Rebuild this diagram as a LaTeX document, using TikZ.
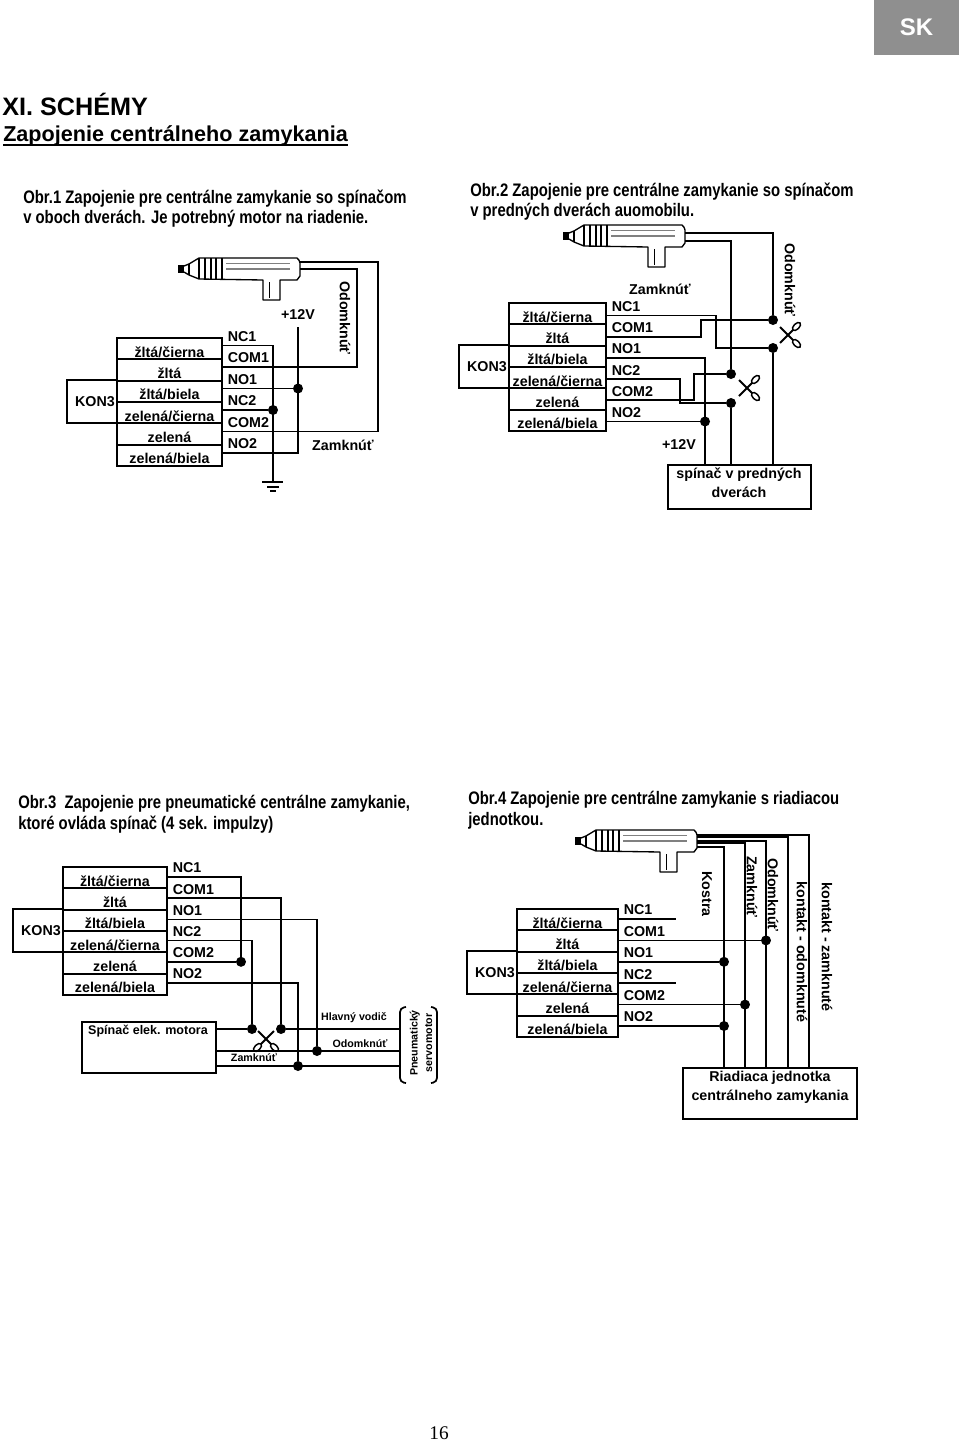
\documentclass[tikz,border=0pt]{standalone}
\usepackage{fontspec}
\setmainfont{Liberation Sans}
\newfontfamily\capfont[FakeStretch=.82]{Liberation Sans}
\newfontfamily\pagefont{Liberation Serif}
\usetikzlibrary{calc}

% prefix, x, top, width, first wire offset, wire step
\newcommand{\konblock}[6]{%
\foreach \i/\rowtxt/\pintxt in {1/{žltá/čierna}/NC1,2/žltá/COM1,3/{žltá/biela}/NO1,4/{zelená/čierna}/NC2,5/zelená/COM2,6/{zelená/biela}/NO2}{
\node[rowbox,minimum width=#4*.75pt] (#1r\i) at ({#2+#4/2},{#3+(\i-.5)*21.3}) {\rowtxt};
\coordinate (#1w\i) at ({#2+#4},{#3+#5+(\i-1)*#6});
\node[pinlbl] (#1p\i) at ({#2+#4+5.5},{#3+#5-9+(\i-1)*#6}) {\pintxt};
}
\node[konbox] (#1kon) at ({#2-25},{#3+63.5}) {\hspace*{4.5pt}KON3};
}

\begin{document}
\begin{tikzpicture}[x=.75pt,y=-.75pt]

\tikzset{every node/.style = {font=\bfseries\fontsize{10.7}{12.8}\selectfont,inner sep=0pt}}
\tikzset{wire/.style = {line width=1.3pt}}
\tikzset{rowbox/.style = {draw,line width=1.5pt,minimum height=15.975pt,text height=14pt,text depth=1pt}}
\tikzset{konbox/.style = {draw,line width=1.5pt,minimum width=37.5pt,minimum height=32pt}}
\tikzset{pinlbl/.style = {anchor=west}}
\tikzset{unitbox/.style = {draw,line width=1.5pt}}
\tikzset{dot/.style = {circle,fill,minimum size=7.5pt}}
\tikzset{small/.style = {font=\bfseries\fontsize{8}{10}\selectfont}}
\tikzset{capt/.style = {anchor=north west,align=left,font=\capfont\bfseries\fontsize{13.6}{15.4}\selectfont}}
\tikzset{lockmotor/.pic = {
\draw[line width=1pt,line join=round] (6,8) -- (11,6) -- (21,0) -- (119,0) to[bend left=20] (122,5) -- (122,18) to[bend left=20] (119,22) -- (102,22) -- (102,42) -- (85,42) -- (85,22) -- (21,21) -- (11,17) -- (6,14);
\draw[line width=1pt] (11,6) -- (11,17);
\fill (0,7) rectangle (6,15);
\foreach \ribx in {21,27,33,38,44}
\draw[line width=1pt] (\ribx,0) -- (\ribx,21);
\draw[line width=.7pt] (91,24) -- (91,40);
\draw[gray,line width=.7pt] (48,5) -- (112,5);
\draw[gray,line width=1.1pt] (48,11) -- (112,11);
\coordinate (-end) at (122,11);
}}
\tikzset{ground/.pic = {
\draw[wire] (-11,0) -- (10,0);
\draw[line width=1pt] (-6,5) -- (6,5);
\draw[line width=1pt] (-3,9) -- (3,9);
}}
\tikzset{scissors/.pic = {
\draw[line width=1.4pt] (-7,-8) -- (6,5);
\draw[line width=1.4pt] (-7,8) -- (6,-5);
\draw[line width=1.1pt] (9.5,-8.5) circle [x radius=5,y radius=2.8,rotate=45];
\draw[line width=1.1pt] (9.5,8.5) circle [x radius=5,y radius=2.8,rotate=-45];
}}
\useasboundingbox (0,0) rectangle (960,1443);

% page head
\node[fill=black!44,minimum width=63.75pt,minimum height=41.25pt,text=white,font=\bfseries\fontsize{18}{20}\selectfont] (lang) at (916.5,27.5) {SK};
\node[anchor=west,font=\bfseries\fontsize{18.9}{20}\selectfont] (head) at (2,104) {XI. SCHÉMY};
\node[anchor=base west,font=\bfseries\fontsize{16.2}{18}\selectfont] (subhead) at (3,141.5) {Zapojenie centrálneho zamykania};
\draw[line width=1.3pt] ([yshift=-2.6pt]subhead.base west) -- ([yshift=-2.6pt]subhead.base east);
\node[capt] (capa) at (23,189.5) {Obr.1 Zapojenie pre centrálne zamykanie so spínačom\\v oboch dverách. Je potrebný motor na riadenie.};
\node[capt] (capb) at (470,182.5) {Obr.2 Zapojenie pre centrálne zamykanie so spínačom\\v predných dverách auomobilu.};
\node[capt] (capc) at (18,795) {Obr.3 \ Zapojenie pre pneumatické centrálne zamykanie,\\ktoré ovláda spínač (4 sek. impulzy)};
\node[capt] (capd) at (468,791) {Obr.4 Zapojenie pre centrálne zamykanie s riadiacou\\jednotkou.};
\node[font=\pagefont\fontsize{14.5}{16}\selectfont] (pagenum) at (439,1433) {16};

% Obr.1
\konblock{a}{117}{338}{105}{7.5}{21.5}
\pic (ma) at (178,258) {lockmotor};
\coordinate (agnd) at (273,482);
\coordinate (aplus) at (298,327);
\coordinate (aup) at (378,262);
\coordinate (alow) at (357,269);
\node[dot] (ada) at (aw3 -| aplus) {};
\node[dot] (adb) at (aw4 -| agnd) {};
\draw[wire] (aw1) -| (agnd);
\pic at (agnd) {ground};
\draw[wire] (aw2) -| (alow) -- (ma-end |- alow);
\draw[wire] (aw3) -- (ada);
\draw[wire] (aw4) -- (adb);
\draw[wire] (aw5) -| (aup) -- (ma-end |- aup);
\draw[wire] (aw6) -| (aplus);
\node (aplustxt) at (298,315) {+12V};
\node[rotate=-90] (aodo) at (345,318) {Odomknúť};
\node (azam) at (343,445) {Zamknúť};

% Obr.2
\konblock{b}{509}{303}{97}{12.5}{21.2}
\pic (mb) at (563,225) {lockmotor};
\node[unitbox,minimum width=107.25pt,minimum height=33pt] (door) at (739.5,487) {};
\node[align=center] (doortxt) at (739,483) {spínač v predných\\[1.2pt]dverách};
\coordinate (ka) at (716,348);
\coordinate (kb) at (701,320);
\coordinate (kc) at (705,465);
\coordinate (kd) at (680,403);
\coordinate (ke) at (694,374);
\coordinate (kf) at (773,233);
\coordinate (kg) at (731,241);
\node[dot] (bda) at (773,320) {};
\node[dot] (bdb) at (773,348) {};
\node[dot] (bdc) at (731,374) {};
\node[dot] (bdd) at (731,403) {};
\node[dot] (bde) at (bw6 -| kc) {};
\draw[wire] (bw1) -| (ka) -- (bdb);
\draw[wire] (bw2) -| (kb) -- (bda);
\draw[wire] (bw3) -| (kc);
\draw[wire] (bw4) -| (kd) -- (bdd);
\draw[wire] (bw5) -| (ke) -- (bdc);
\draw[wire] (bw6) -- (bde);
\draw[wire] (bda) -- (kf) -- (mb-end |- kf);
\draw[wire] (bdc) -- (kg) -- (mb-end |- kg);
\draw[wire] (bdb) -- (bdb |- door.north);
\draw[wire] (bdd) -- (bdd |- door.north);
\pic at (787,335) {scissors};
\pic at (746,388) {scissors};
\node (bzam) at (660,289) {Zamknúť};
\node[rotate=-90] (bodo) at (790,280) {Odomknúť};
\node (bplus) at (679,445) {+12V};

% Obr.3
\konblock{c}{63}{867}{104}{10}{21.2}
\node[unitbox,minimum width=100.5pt,minimum height=38.25pt] (motsw) at (149,1047.5) {};
\node[font=\bfseries\fontsize{9.4}{11}\selectfont] (motswtxt) at (148,1031) {Spínač elek. motora};
\coordinate (ca) at (241,961);
\coordinate (cb) at (281,1029);
\coordinate (cc) at (317,1051);
\coordinate (cd) at (252,1029);
\coordinate (ce) at (298,1066);
\coordinate (cra) at (400,1029);
\coordinate (crb) at (400,1051);
\coordinate (crc) at (400,1066);
\node[dot] (cda) at (cw5 -| ca) {};
\node[dot] (cdb) at (cb) {};
\node[dot] (cdc) at (cc) {};
\node[dot] (cdd) at (cd) {};
\node[dot] (cde) at (ce) {};
\draw[wire] (cw1) -| (cda);
\draw[wire] (cw5) -- (cda);
\draw[wire] (cw2) -| (cdb);
\draw[wire] (cw3) -| (cdc);
\draw[wire] (cw4) -| (cdd);
\draw[wire] (cw6) -| (cde);
\draw[wire] (motsw.east |- cd) -- (cdd);
\draw[wire] (cdb) -- (cra);
\draw[wire] (motsw.east |- cc) -- (crb);
\draw[wire] (motsw.east |- ce) -- (crc);
\pic[rotate=-90] at (266,1038) {scissors};
\draw[wire,rounded corners=3pt] (406,1007) -- (400,1008) -- (400,1082) -- (406,1083);
\draw[wire,rounded corners=3pt] (431,1007) -- (437,1008) -- (437,1082) -- (431,1083);
\node[small,rotate=90,align=center] (servo) at (421,1043) {Pneumatický\\[1pt]servomotor};
\node[small] (chlav) at (354,1018) {Hlavný vodič};
\node[small] (codo) at (360,1044) {Odomknúť};
\node[small] (czam) at (254,1058) {Zamknúť};

% Obr.4
\konblock{d}{517}{909}{101}{10}{21.4}
\pic (md) at (575,830) {lockmotor};
\node[unitbox,minimum width=130.5pt,minimum height=38.25pt] (ctrl) at (770,1093.5) {};
\node[align=center] (ctrltxt) at (770,1087.5) {Riadiaca jednotka\\[1.2pt]centrálneho zamykania};
\coordinate (k4a) at (809,835);
\coordinate (k4b) at (788,837);
\coordinate (k4c) at (766,841);
\coordinate (k4e) at (745,843);
\coordinate (k4f) at (724,847);
\foreach \bus in {k4a,k4b,k4c,k4e,k4f}
\draw[wire] (md-end |- \bus) -- (\bus) -- (\bus |- ctrl.north);
\coordinate (dsa) at (676,919);
\coordinate (dsb) at (676,983);
\draw[wire] (dw1) -- (dw1 -| dsa);
\draw[wire] (dw4) -- (dw4 -| dsb);
\node[dot] (dda) at (dw2 -| k4c) {};
\node[dot] (ddb) at (dw3 -| k4f) {};
\node[dot] (ddc) at (dw5 -| k4e) {};
\node[dot] (ddd) at (dw6 -| k4f) {};
\draw[wire] (dw2) -- (dda);
\draw[wire] (dw3) -- (ddb);
\draw[wire] (dw5) -- (ddc);
\draw[wire] (dw6) -- (ddd);
\node[rotate=-90] (dkos) at (707,894) {Kostra};
\node[rotate=-90] (dzam) at (752,887) {Zamknúť};
\node[rotate=-90] (dodo) at (773,895) {Odomknúť};
\node[rotate=-90] (dkoo) at (802,952) {kontakt - odomknuté};
\node[rotate=-90] (dkoz) at (827,947) {kontakt - zamknuté};

\end{tikzpicture}
\end{document}
